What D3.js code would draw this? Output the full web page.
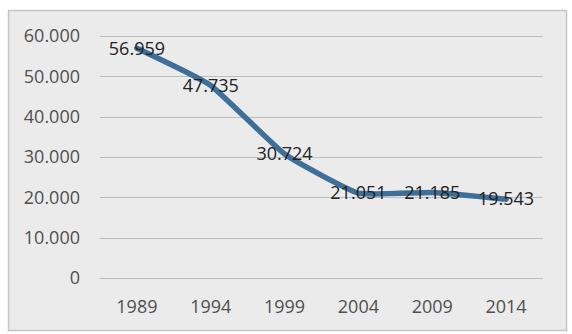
<!DOCTYPE html>
<html><head><meta charset="utf-8">
<script src="https://cdn.jsdelivr.net/npm/d3@7"></script>
<style>html,body{margin:0;padding:0;background:#fff;}svg{display:block;}</style>
</head><body>
<svg id="c" width="572" height="334"></svg>
<script>
const years = ["1989","1994","1999","2004","2009","2014"];
const values = [56959, 47735, 30724, 21051, 21185, 19543];
const labels = ["56.959","47.735","30.724","21.051","21.185","19.543"];
const yTicks = [0,10000,20000,30000,40000,50000,60000];
const yTickLabels = ["0","10.000","20.000","30.000","40.000","50.000","60.000"];

const svg = d3.select("#c");
svg.append("rect").attr("x",8.5).attr("y",10.5).attr("width",558).attr("height",320)
  .attr("fill","#ebebeb").attr("stroke","#c4c4c4").attr("stroke-width",1.5);

const x = d3.scaleBand().domain(years).range([100,543]);
const y = d3.scaleLinear().domain([0,60000]).range([278,36]);

const g = svg.append("g");
g.selectAll("line.grid").data(yTicks).join("line")
  .attr("x1",100).attr("x2",543)
  .attr("y1",d=>Math.round(y(d))+0.5).attr("y2",d=>Math.round(y(d))+0.5)
  .attr("stroke","#bdbdbd").attr("stroke-width",1.2);

g.selectAll("text.yt").data(yTicks).join("text")
  .attr("x",80).attr("y",d=>y(d)).attr("dy","0.35em")
  .attr("text-anchor","end").attr("font-family","Open Sans, sans-serif")
  .attr("font-size",18).attr("fill","#505050")
  .text((d,i)=>yTickLabels[i]);

g.selectAll("text.xt").data(years).join("text")
  .attr("x",d=>x(d)+x.bandwidth()/2).attr("y",307).attr("dy","0.35em")
  .attr("text-anchor","middle").attr("font-family","Open Sans, sans-serif")
  .attr("font-size",18).attr("fill","#505050")
  .text(d=>d);

const line = d3.line()
  .x((d,i)=>x(years[i])+x.bandwidth()/2)
  .y(d=>y(d))
  .curve(d3.curveCardinal.tension(0.6));
g.append("path").datum(values).attr("d",line)
  .attr("fill","none").attr("stroke","#3d6f99").attr("stroke-width",5.5)
  .attr("stroke-linejoin","round").attr("stroke-linecap","round");

g.selectAll("text.lbl").data(values).join("text")
  .attr("x",(d,i)=>x(years[i])+x.bandwidth()/2).attr("y",d=>y(d)).attr("dy","0.35em")
  .attr("text-anchor","middle").attr("font-family","Open Sans, sans-serif")
  .attr("font-size",18).attr("fill","#222")
  .text((d,i)=>labels[i]);
</script>
</body></html>
